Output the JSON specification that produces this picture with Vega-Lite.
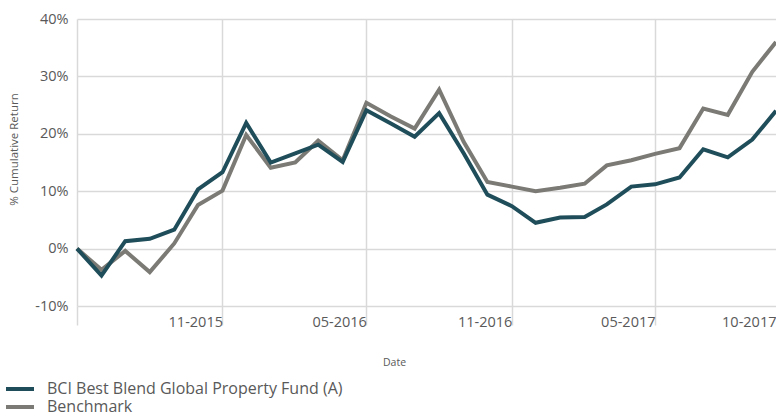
{
  "$schema": "https://vega.github.io/schema/vega-lite/v6.json",
  "width": 699,
  "height": 287,
  "autosize": "none",
  "padding": {"left": 77, "top": 19, "right": 0, "bottom": 113},
  "background": "white",
  "config": {
    "view": {"stroke": null},
    "font": "Open Sans"
  },
  "data": {
    "values": [
      {"date": "2015-05-01", "series": "BCI Best Blend Global Property Fund (A)", "value": 0.0},
      {"date": "2015-06-01", "series": "BCI Best Blend Global Property Fund (A)", "value": -4.7},
      {"date": "2015-07-01", "series": "BCI Best Blend Global Property Fund (A)", "value": 1.3},
      {"date": "2015-08-01", "series": "BCI Best Blend Global Property Fund (A)", "value": 1.7},
      {"date": "2015-09-01", "series": "BCI Best Blend Global Property Fund (A)", "value": 3.3},
      {"date": "2015-10-01", "series": "BCI Best Blend Global Property Fund (A)", "value": 10.3},
      {"date": "2015-11-01", "series": "BCI Best Blend Global Property Fund (A)", "value": 13.3},
      {"date": "2015-12-01", "series": "BCI Best Blend Global Property Fund (A)", "value": 21.9},
      {"date": "2016-01-01", "series": "BCI Best Blend Global Property Fund (A)", "value": 15.0},
      {"date": "2016-02-01", "series": "BCI Best Blend Global Property Fund (A)", "value": 16.6},
      {"date": "2016-03-01", "series": "BCI Best Blend Global Property Fund (A)", "value": 18.1},
      {"date": "2016-04-01", "series": "BCI Best Blend Global Property Fund (A)", "value": 15.1},
      {"date": "2016-05-01", "series": "BCI Best Blend Global Property Fund (A)", "value": 24.1},
      {"date": "2016-06-01", "series": "BCI Best Blend Global Property Fund (A)", "value": 21.8},
      {"date": "2016-07-01", "series": "BCI Best Blend Global Property Fund (A)", "value": 19.5},
      {"date": "2016-08-01", "series": "BCI Best Blend Global Property Fund (A)", "value": 23.6},
      {"date": "2016-09-01", "series": "BCI Best Blend Global Property Fund (A)", "value": 16.6},
      {"date": "2016-10-01", "series": "BCI Best Blend Global Property Fund (A)", "value": 9.4},
      {"date": "2016-11-01", "series": "BCI Best Blend Global Property Fund (A)", "value": 7.4},
      {"date": "2016-12-01", "series": "BCI Best Blend Global Property Fund (A)", "value": 4.5},
      {"date": "2017-01-01", "series": "BCI Best Blend Global Property Fund (A)", "value": 5.4},
      {"date": "2017-02-01", "series": "BCI Best Blend Global Property Fund (A)", "value": 5.5},
      {"date": "2017-03-01", "series": "BCI Best Blend Global Property Fund (A)", "value": 7.7},
      {"date": "2017-04-01", "series": "BCI Best Blend Global Property Fund (A)", "value": 10.8},
      {"date": "2017-05-01", "series": "BCI Best Blend Global Property Fund (A)", "value": 11.2},
      {"date": "2017-06-01", "series": "BCI Best Blend Global Property Fund (A)", "value": 12.4},
      {"date": "2017-07-01", "series": "BCI Best Blend Global Property Fund (A)", "value": 17.3},
      {"date": "2017-08-01", "series": "BCI Best Blend Global Property Fund (A)", "value": 15.9},
      {"date": "2017-09-01", "series": "BCI Best Blend Global Property Fund (A)", "value": 19.0},
      {"date": "2017-10-01", "series": "BCI Best Blend Global Property Fund (A)", "value": 24.0},
      {"date": "2015-05-01", "series": "Benchmark", "value": 0.0},
      {"date": "2015-06-01", "series": "Benchmark", "value": -3.7},
      {"date": "2015-07-01", "series": "Benchmark", "value": -0.4},
      {"date": "2015-08-01", "series": "Benchmark", "value": -4.1},
      {"date": "2015-09-01", "series": "Benchmark", "value": 0.9},
      {"date": "2015-10-01", "series": "Benchmark", "value": 7.6},
      {"date": "2015-11-01", "series": "Benchmark", "value": 10.1},
      {"date": "2015-12-01", "series": "Benchmark", "value": 19.8},
      {"date": "2016-01-01", "series": "Benchmark", "value": 14.1},
      {"date": "2016-02-01", "series": "Benchmark", "value": 15.0},
      {"date": "2016-03-01", "series": "Benchmark", "value": 18.8},
      {"date": "2016-04-01", "series": "Benchmark", "value": 15.4},
      {"date": "2016-05-01", "series": "Benchmark", "value": 25.4},
      {"date": "2016-06-01", "series": "Benchmark", "value": 23.0},
      {"date": "2016-07-01", "series": "Benchmark", "value": 20.9},
      {"date": "2016-08-01", "series": "Benchmark", "value": 27.7},
      {"date": "2016-09-01", "series": "Benchmark", "value": 18.6},
      {"date": "2016-10-01", "series": "Benchmark", "value": 11.6},
      {"date": "2016-11-01", "series": "Benchmark", "value": 10.8},
      {"date": "2016-12-01", "series": "Benchmark", "value": 10.0},
      {"date": "2017-01-01", "series": "Benchmark", "value": 10.6},
      {"date": "2017-02-01", "series": "Benchmark", "value": 11.3},
      {"date": "2017-03-01", "series": "Benchmark", "value": 14.5},
      {"date": "2017-04-01", "series": "Benchmark", "value": 15.4},
      {"date": "2017-05-01", "series": "Benchmark", "value": 16.5},
      {"date": "2017-06-01", "series": "Benchmark", "value": 17.5},
      {"date": "2017-07-01", "series": "Benchmark", "value": 24.4},
      {"date": "2017-08-01", "series": "Benchmark", "value": 23.3},
      {"date": "2017-09-01", "series": "Benchmark", "value": 30.8},
      {"date": "2017-10-01", "series": "Benchmark", "value": 36.0}
    ]
  },
  "encoding": {
    "x": {
      "field": "date",
      "type": "temporal",
      "scale": {
        "type": "utc",
        "domain": [
          {"year": 2015, "month": 5, "date": 1, "utc": true},
          {"year": 2017, "month": 10, "date": 1, "utc": true}
        ],
        "nice": false
      },
      "axis": {
        "values": [
          {"year": 2015, "month": 5, "date": 1, "utc": true},
          {"year": 2015, "month": 11, "date": 1, "utc": true},
          {"year": 2016, "month": 5, "date": 1, "utc": true},
          {"year": 2016, "month": 11, "date": 1, "utc": true},
          {"year": 2017, "month": 5, "date": 1, "utc": true},
          {"year": 2017, "month": 10, "date": 1, "utc": true}
        ],
        "labelExpr": "(utcyear(datum.value) == 2015 && utcmonth(datum.value) == 4) ? '' : utcFormat(datum.value, '%m-%Y')",
        "domain": false,
        "grid": true,
        "gridColor": {"condition": {"test": "utcyear(datum.value) == 2017 && utcmonth(datum.value) == 9", "value": "transparent"}, "value": "#d9d9d9"},
        "gridWidth": 1.5,
        "ticks": true,
        "tickSize": 19,
        "tickColor": {"condition": {"test": "utcyear(datum.value) == 2017 && utcmonth(datum.value) == 9", "value": "transparent"}, "value": "#d9d9d9"},
        "tickWidth": 1.5,
        "labelAlign": "right",
        "labelBaseline": "middle",
        "labelPadding": -3,
        "labelDx": -8,
        "labelFlush": false,
        "labelOverlap": false,
        "labelBound": false,
        "labelFontSize": 14.5,
        "labelColor": "#595959",
        "title": "Date",
        "titleFontSize": 10.5,
        "titleFontWeight": "normal",
        "titleColor": "#595959",
        "titleX": 317,
        "titleY": 56,
        "titleBaseline": "middle",
        "titleAlign": "center"
      }
    },
    "y": {
      "field": "value",
      "type": "quantitative",
      "scale": {"domain": [-10, 40], "nice": false},
      "axis": {
        "values": [-10, 0, 10, 20, 30, 40],
        "labelExpr": "datum.value + '%'",
        "domain": false,
        "ticks": false,
        "grid": true,
        "gridColor": "#d9d9d9",
        "gridWidth": 1.5,
        "labelPadding": 9,
        "labelFontSize": 14.5,
        "labelColor": "#595959",
        "title": "% Cumulative Return",
        "titleFontSize": 11.5,
        "titleFontWeight": "normal",
        "titleColor": "#595959",
        "titleX": -63,
        "titleY": 130,
        "titleAlign": "center",
        "titleBaseline": "middle"
      }
    },
    "color": {
      "field": "series",
      "type": "nominal",
      "scale": {
        "domain": ["BCI Best Blend Global Property Fund (A)", "Benchmark"],
        "range": ["#1f4e5a", "#7c7a74"]
      },
      "legend": {
        "title": null,
        "orient": "none",
        "legendX": -66,
        "legendY": 361,
        "direction": "vertical",
        "symbolType": "M-2,0H2",
        "symbolSize": 196,
        "symbolStrokeWidth": 4,
        "labelFontSize": 16,
        "labelLimit": 500,
        "labelColor": "#595959",
        "labelOffset": 18,
        "rowPadding": 1
      }
    }
  },
  "layer": [
    {
      "transform": [{"filter": "datum.series == 'Benchmark'"}],
      "mark": {"type": "line", "strokeWidth": 4, "strokeJoin": "miter"}
    },
    {
      "transform": [{"filter": "datum.series != 'Benchmark'"}],
      "mark": {"type": "line", "strokeWidth": 4, "strokeJoin": "miter"}
    }
  ]
}
